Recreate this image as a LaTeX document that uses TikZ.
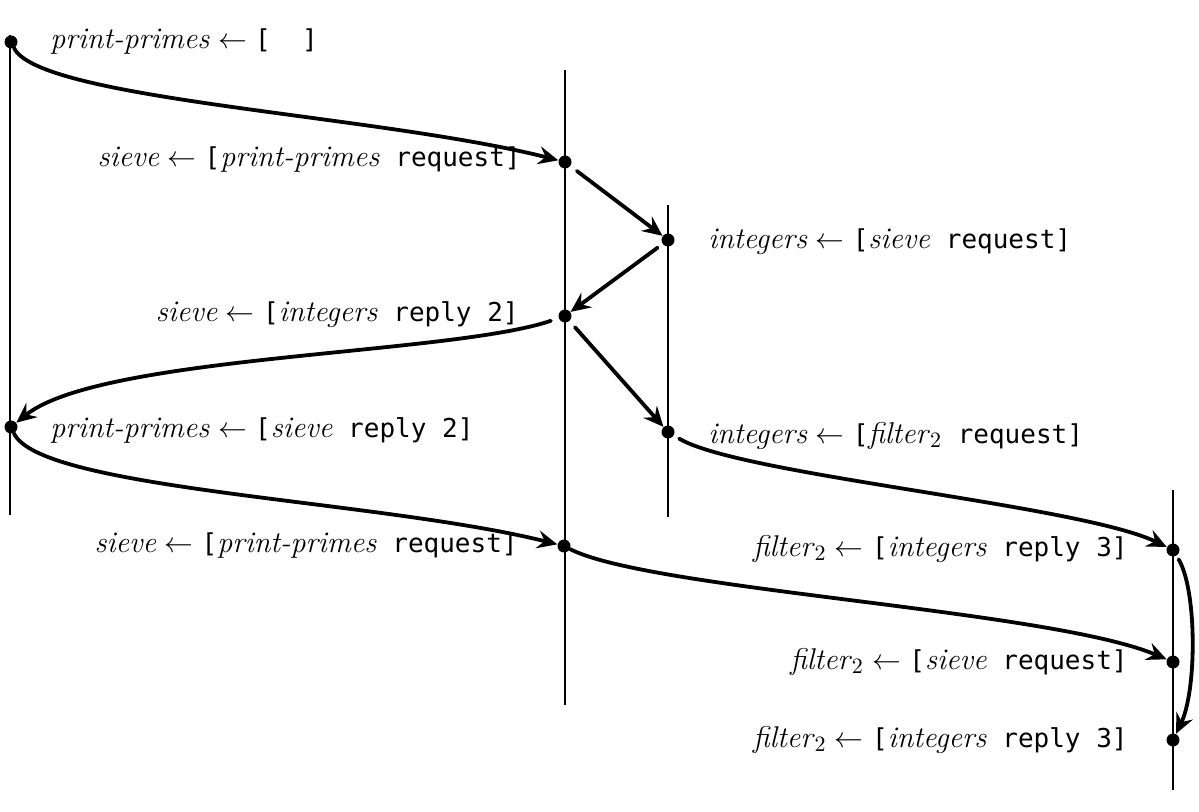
\documentclass[tikz,border=0pt]{standalone}
\usepackage{fontspec}
\setmonofont{DejaVu Sans Mono}
\usetikzlibrary{arrows.meta}

% process names in italics, message words in typewriter
\newcommand\pname[1]{\textit{#1}}
\newcommand\mtt[1]{{\fontsize{13}{16}\ttfamily #1}}
\newcommand\larw{\;$\leftarrow$\;}

\tikzset{
  timeline/.style={line width=1pt},
  dot/.style={circle, fill=black, inner sep=0pt, minimum size=6.5pt},
  msg/.style={line width=1.9pt, line cap=round,
    -{Stealth[length=10pt, width=9pt, inset=3.5pt]}},
  lab/.style={inner sep=0pt, font=\fontsize{15}{18}\selectfont},
}

\begin{document}
\begin{tikzpicture}[x=0.5pt, y=-0.5pt]
  \useasboundingbox (0,0) rectangle (1199,812);

  % process lifelines
  \coordinate (p1t) at (10,35);   \coordinate (p1b) at (10,515);
  \coordinate (p2t) at (565,70);  \coordinate (p2b) at (565,705);
  \coordinate (p3t) at (668,205); \coordinate (p3b) at (668,517);
  \coordinate (p4t) at (1173,490);\coordinate (p4b) at (1173,790);
  \draw[timeline] (p1t) -- (p1b);
  \draw[timeline] (p2t) -- (p2b);
  \draw[timeline] (p3t) -- (p3b);
  \draw[timeline] (p4t) -- (p4b);

  % events
  \node[dot] (a1) at (11,42) {};
  \node[dot] (b1) at (565,162) {};
  \node[dot] (c1) at (668,240) {};
  \node[dot] (b2) at (565,316) {};
  \node[dot] (a2) at (11,427) {};
  \node[dot] (c2) at (668,432) {};
  \node[dot] (b3) at (564,546) {};
  \node[dot] (d1) at (1173,550) {};
  \node[dot] (d2) at (1173,662) {};
  \node[dot] (d3) at (1173,740) {};

  % event labels
  \node[lab, anchor=west] (la1) at (50,42)
    {\pname{print-primes}\larw\mtt{[\ \ ]}};
  \node[lab, anchor=east] (lb1) at (521,160)
    {\pname{sieve}\larw\mtt{[}\pname{print-primes}\mtt{ request]}};
  \node[lab, anchor=west] (lc1) at (708,242)
    {\pname{integers}\larw\mtt{[}\pname{sieve}\mtt{ request]}};
  \node[lab, anchor=east] (lb2) at (519,315)
    {\pname{sieve}\larw\mtt{[}\pname{integers}\mtt{ reply 2]}};
  \node[lab, anchor=west] (la2) at (50,430)
    {\pname{print-primes}\larw\mtt{[}\pname{sieve}\mtt{ reply 2]}};
  \node[lab, anchor=west] (lc2) at (708,436)
    {\pname{integers}\larw\mtt{[}\pname{filter}$_2$\mtt{ request]}};
  \node[lab, anchor=east] (lb3) at (518,546)
    {\pname{sieve}\larw\mtt{[}\pname{print-primes}\mtt{ request]}};
  \node[lab, anchor=east] (ld1) at (1128,549)
    {\pname{filter}$_2$\larw\mtt{[}\pname{integers}\mtt{ reply 3]}};
  \node[lab, anchor=east] (ld2) at (1128,662)
    {\pname{filter}$_2$\larw\mtt{[}\pname{sieve}\mtt{ request]}};
  \node[lab, anchor=east] (ld3) at (1128,740)
    {\pname{filter}$_2$\larw\mtt{[}\pname{integers}\mtt{ reply 3]}};

  % messages
  \draw[msg] (a1) .. controls (40,100) and (380,115) .. (b1);
  \draw[msg, shorten <=4pt] (b1) -- (c1);
  \draw[msg, shorten <=3pt] (c1) -- (b2);
  \draw[msg, shorten <=4pt] (b2) .. controls (450,355) and (100,355) .. (a2);
  \draw[msg, shorten <=4pt] (b2) -- (c2);
  \draw[msg] (a2) .. controls (40,490) and (380,500) .. (b3);
  \draw[msg, shorten <=3pt] (c2) .. controls (740,475) and (1080,505) .. (d1);
  \draw[msg] (b3) .. controls (650,590) and (1050,610) .. (d2);
  \draw[msg, shorten <=2pt] (d1) .. controls (1197,590) and (1197,690) .. (d3);
\end{tikzpicture}
\end{document}
